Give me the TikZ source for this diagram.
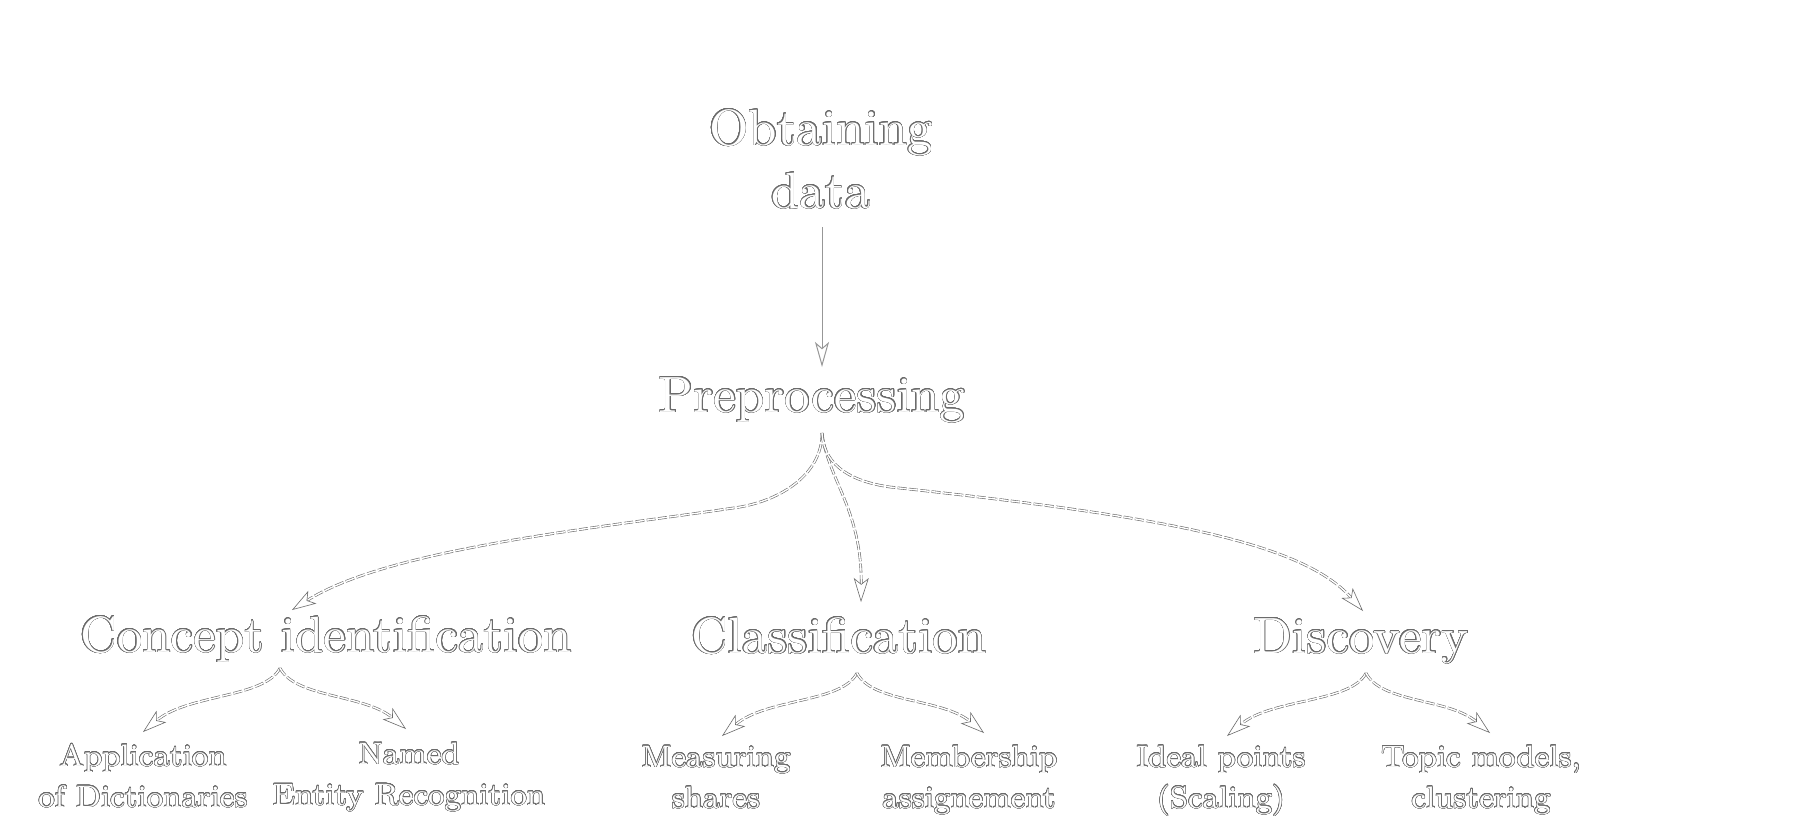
\documentclass[tikz,border=0pt]{standalone}
\usepackage{fontspec}
\setmainfont{lmroman10-regular}[Extension=.otf]
\newfontfamily\leaffont{lmroman8-regular}[Extension=.otf]
\usepackage[copies]{contour}
\contourlength{0.25pt}
\contournumber{24}
\usetikzlibrary{arrows.meta}
\definecolor{olc}{gray}{0.42}
\newcommand{\olt}[1]{\contour{olc}{#1}}
\begin{document}
\begin{tikzpicture}[x=0.5pt,y=-0.5pt,
  bigtxt/.style={text=white, font=\fontsize{25.5}{31.5}\selectfont, inner sep=0pt, anchor=base},
  leaftxt/.style={text=white, font=\leaffont\fontsize{15.5}{20.5}\selectfont, inner sep=0pt, anchor=base, align=center},
  dedge/.style={draw=olc, line width=0.3pt, double=white, double distance=0.7pt,
     dash pattern=on 4.5pt off 1.2pt,
     -{Stealth[open, fill=white, length=12pt, width=7.5pt, inset=3pt]}},
  sedge/.style={draw=olc!70, line width=0.5pt,
     -{Stealth[open, fill=white, length=12.5pt, width=7pt, inset=3pt]}}
]
\fill[white] (0,0) rectangle (1793,831);
\path[use as bounding box] (0,0) rectangle (1793,831);

% nodes (multi-line nodes are placed at the baseline of their last line)
\node[bigtxt, align=center] (obt) at (821,208) {\olt{Obtaining}\\\olt{data}};
\node[bigtxt] (pre) at (812,412) {\olt{Preprocessing}};
\node[bigtxt] (con) at (326,652) {\olt{Concept identification}};
\node[bigtxt] (cla) at (839,653) {\olt{Classification}};
\node[bigtxt] (dis) at (1361,653) {\olt{Discovery}};

\node[leaftxt] (app) at (143,807) {\olt{Application}\\\olt{of Dictionaries}};
\node[leaftxt] (ner) at (409,805) {\olt{Named}\\\olt{Entity Recognition}};
\node[leaftxt] (mea) at (716,808) {\olt{Measuring}\\\olt{shares}};
\node[leaftxt] (mem) at (969,808) {\olt{Membership}\\\olt{assignement}};
\node[leaftxt] (ide) at (1221,808) {\olt{Ideal points}\\\olt{(Scaling)}};
\node[leaftxt] (top) at (1481,808) {\olt{Topic models,}\\\olt{clustering}};

% connector end points
\coordinate (obt-out) at (822,227);
\coordinate (pre-in) at (822,367);
\coordinate (pre-out) at (822,433);
\coordinate (con-in) at (292,610);
\coordinate (cla-in) at (861,602);
\coordinate (dis-in) at (1363,611);
\coordinate (con-out) at (280,668);
\coordinate (cla-out) at (857,673);
\coordinate (dis-out) at (1366,673);
\coordinate (app-in) at (143,732);
\coordinate (ner-in) at (406,729);
\coordinate (mea-in) at (722,736);
\coordinate (mem-in) at (984,733);
\coordinate (ide-in) at (1227,736);
\coordinate (top-in) at (1490,733);
\coordinate (lbend) at (740,507);
\coordinate (rbend) at (890,487);

% connectors
\draw[sedge] (obt-out) -- (pre-in);
\draw[dedge] (pre-out) .. controls (822,475) and (780,500) .. (lbend)
   .. controls (600,528) and (390,548) .. (con-in);
\draw[dedge] (pre-out) .. controls (828,480) and (862,510) .. (cla-in);
\draw[dedge] (pre-out) .. controls (824,468) and (855,482) .. (rbend)
   .. controls (1150,515) and (1300,540) .. (dis-in);

\foreach \s/\l/\r in {con-out/app-in/ner-in, cla-out/mea-in/mem-in, dis-out/ide-in/top-in}{
  \draw[dedge] (\s) .. controls +(-15,30) and +(45,-38) .. (\l);
  \draw[dedge] (\s) .. controls +(15,30) and +(-42,-35) .. (\r);
}
\end{tikzpicture}
\end{document}
